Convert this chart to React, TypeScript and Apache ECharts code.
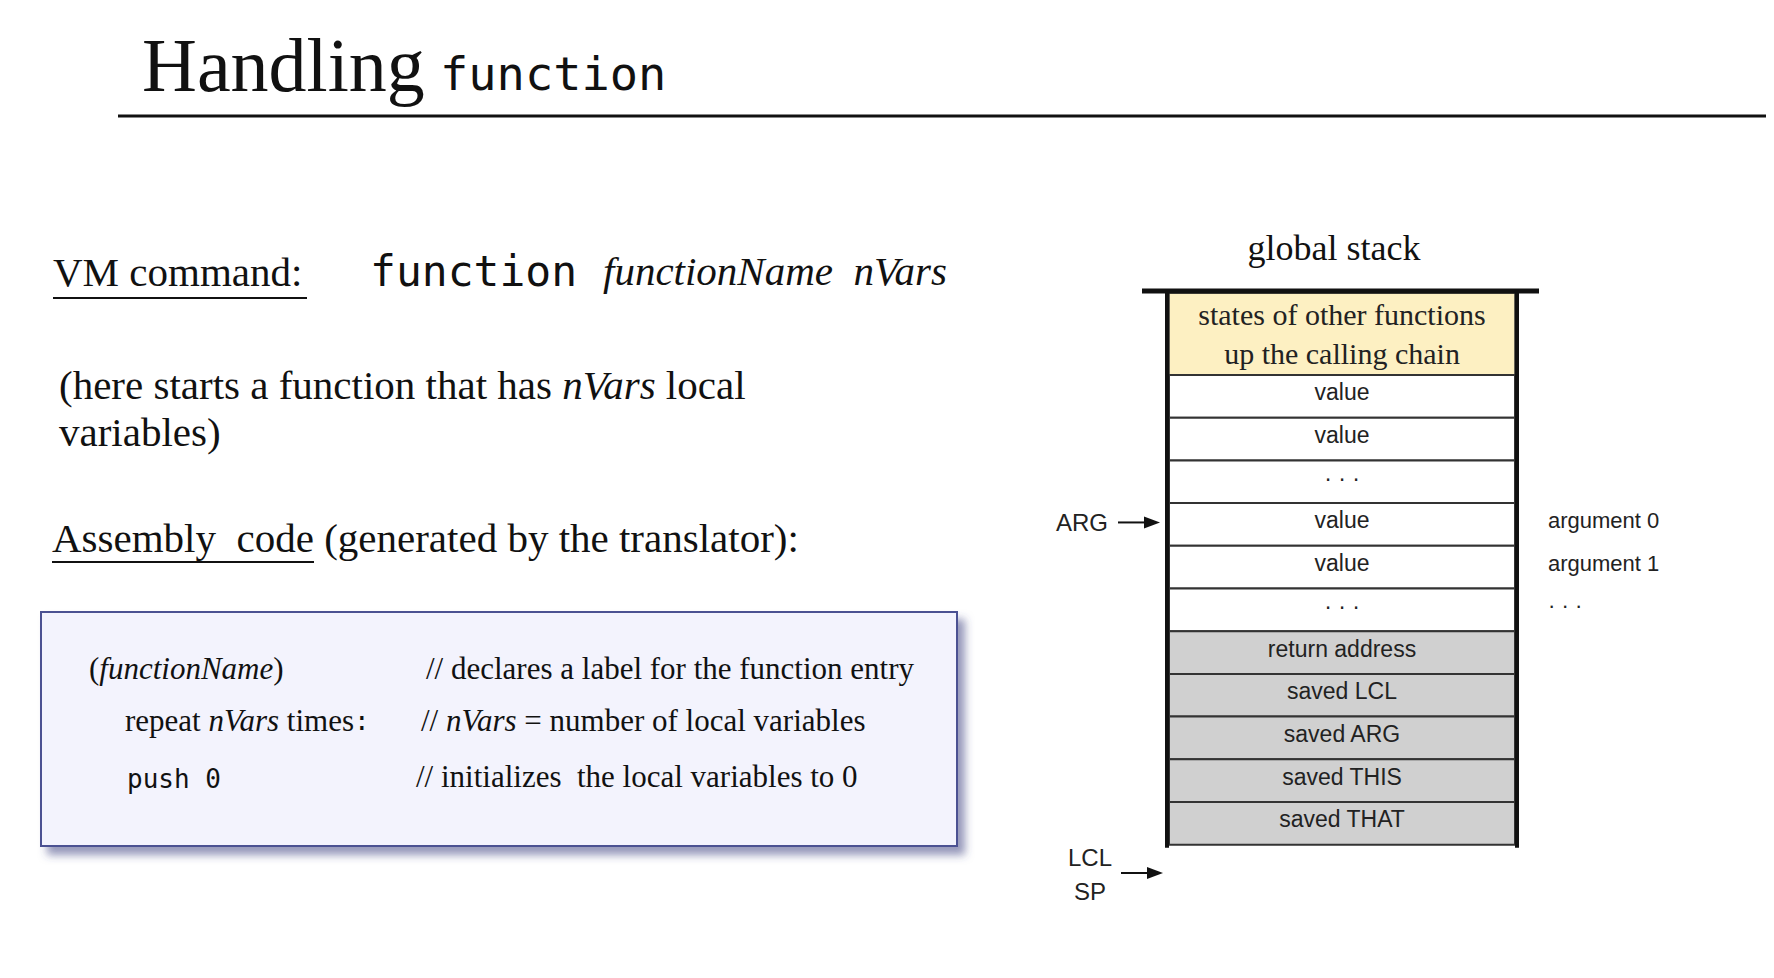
import { useEffect, useRef } from "react";
import * as echarts from "echarts";

const stackLabels = [
  "value", "value", "\u00b7 \u00b7 \u00b7", "value", "value", "\u00b7 \u00b7 \u00b7",
  "return address", "saved LCL", "saved ARG", "saved THIS", "saved THAT",
];
const stackShaded = [false, false, false, false, false, false, true, true, true, true, true];
const sideNotes = [
  { row: 3, text: "argument 0" },
  { row: 4, text: "argument 1" },
  { row: 5, text: "\u00b7 \u00b7 \u00b7" },
];
const codeLines = [
  { left: "{p|(}{i|functionName}{p|)}", comment: "{p|// declares a label for the function entry}", lx: 89, cx: 426 },
  { left: "{p|repeat }{i|nVars}{p| times}{m|:}", comment: "{p|// }{i|nVars}{p| = number of local variables}", lx: 125, cx: 421 },
  { left: "{m|push 0}", comment: "{p|// initializes  the local variables to 0}", lx: 127, cx: 416 },
];

const SERIF = "'Liberation Serif', 'DejaVu Serif', serif";
const SANS = "'Liberation Sans', Arial, sans-serif";
const MONO = "'DejaVu Sans Mono', monospace";

export default function App() {
  const ref = useRef<HTMLDivElement>(null);

  useEffect(() => {
    document.body.style.margin = "0";
    if (!ref.current) return;
    const chart = echarts.init(ref.current, undefined, { renderer: "svg" });

    const cellTop = 375;
    const cellH = 42.7;
    const cellX = 1169;
    const cellW = 346;
    const elements: any[] = [];

    // title
    elements.push({
      type: "text", x: 142, y: 103,
      style: { text: "Handling", font: `76px ${SERIF}`, fill: "#111", verticalAlign: "bottom" },
    });
    elements.push({
      type: "text", x: 440, y: 97,
      style: { text: "function", font: `47px ${MONO}`, fill: "#111", verticalAlign: "bottom" },
    });
    elements.push({ type: "line", shape: { x1: 118, y1: 116, x2: 1766, y2: 116 }, style: { stroke: "#111", lineWidth: 3 } });

    // VM command line
    elements.push({
      type: "text", x: 53, y: 292,
      style: { text: "VM command:", font: `41px ${SERIF}`, fill: "#111", verticalAlign: "bottom" },
    });
    elements.push({ type: "line", shape: { x1: 53, y1: 298, x2: 307, y2: 298 }, style: { stroke: "#111", lineWidth: 2 } });
    elements.push({
      type: "text", x: 370, y: 292,
      style: {
        text: "{m|function }{i|functionName  nVars}", verticalAlign: "bottom",
        rich: {
          m: { font: `43px ${MONO}`, fill: "#111" },
          i: { font: `italic 41px ${SERIF}`, fill: "#111" },
        },
      },
    });

    // description
    elements.push({
      type: "text", x: 59, y: 405,
      style: {
        text: "{p|(here starts a function that has }{i|nVars}{p| local}", verticalAlign: "bottom",
        rich: { p: { font: `41px ${SERIF}`, fill: "#111" }, i: { font: `italic 41px ${SERIF}`, fill: "#111" } },
      },
    });
    elements.push({
      type: "text", x: 59, y: 452,
      style: { text: "variables)", font: `41px ${SERIF}`, fill: "#111", verticalAlign: "bottom" },
    });

    // assembly code heading
    elements.push({
      type: "text", x: 52, y: 558,
      style: { text: "Assembly  code (generated by the translator):", font: `41px ${SERIF}`, fill: "#111", verticalAlign: "bottom" },
    });
    elements.push({ type: "line", shape: { x1: 52, y1: 562, x2: 314, y2: 562 }, style: { stroke: "#111", lineWidth: 2 } });

    // code box
    elements.push({
      type: "rect", shape: { x: 41, y: 612, width: 916, height: 234 },
      style: {
        fill: "#f3f3fd", stroke: "#4b5192", lineWidth: 2,
        shadowColor: "rgba(60,66,130,0.55)", shadowBlur: 8, shadowOffsetX: 7, shadowOffsetY: 8,
      },
    });
    const codeRich = {
      p: { font: `31px ${SERIF}`, fill: "#111" },
      i: { font: `italic 31px ${SERIF}`, fill: "#111" },
      m: { font: `26px ${MONO}`, fill: "#111" },
    };
    const codeBase = [684, 736, 792];
    codeLines.forEach((l, k) => {
      elements.push({ type: "text", x: l.lx, y: codeBase[k], style: { text: l.left, verticalAlign: "bottom", rich: codeRich } });
      elements.push({ type: "text", x: l.cx, y: codeBase[k], style: { text: l.comment, verticalAlign: "bottom", rich: codeRich } });
    });

    // global stack
    elements.push({
      type: "text", x: 1334, y: 266,
      style: { text: "global stack", font: `36px ${SERIF}`, fill: "#111", align: "center", verticalAlign: "bottom" },
    });
    elements.push({
      type: "rect", shape: { x: cellX, y: 293, width: cellW, height: cellTop - 293 },
      style: { fill: "#fdf0c2", stroke: "#333", lineWidth: 1.5 },
    });
    elements.push({
      type: "text", x: cellX + cellW / 2, y: 334,
      style: {
        text: "states of other functions\nup the calling chain", font: `30px ${SERIF}`, fill: "#222",
        align: "center", verticalAlign: "middle", lineHeight: 39,
      },
    });
    stackLabels.forEach((lab, k) => {
      const y = cellTop + k * cellH;
      elements.push({
        type: "rect", shape: { x: cellX, y, width: cellW, height: cellH },
        style: { fill: stackShaded[k] ? "#d0d0d0" : "#fff", stroke: "#333", lineWidth: 2 },
      });
      elements.push({
        type: "text", x: cellX + cellW / 2, y: y + cellH / 2 - 4,
        style: { text: lab, font: `23px ${SANS}`, fill: "#222", align: "center", verticalAlign: "middle" },
      });
    });
    const bottom = cellTop + stackLabels.length * cellH;
    elements.push({ type: "line", shape: { x1: 1142, y1: 291, x2: 1539, y2: 291 }, style: { stroke: "#111", lineWidth: 5 } });
    elements.push({ type: "line", shape: { x1: 1167, y1: 291, x2: 1167, y2: bottom + 3 }, style: { stroke: "#111", lineWidth: 4 } });
    elements.push({ type: "line", shape: { x1: 1517, y1: 291, x2: 1517, y2: bottom + 3 }, style: { stroke: "#111", lineWidth: 4 } });

    sideNotes.forEach((n) => {
      elements.push({
        type: "text", x: 1548, y: cellTop + n.row * cellH + cellH / 2 - 4,
        style: { text: n.text, font: `22px ${SANS}`, fill: "#222", verticalAlign: "middle" },
      });
    });

    // pointers
    const arrow = (x1: number, x2: number, y: number) => {
      elements.push({ type: "line", shape: { x1, y1: y, x2: x2 - 12, y2: y }, style: { stroke: "#111", lineWidth: 2 } });
      elements.push({ type: "polygon", shape: { points: [[x2, y], [x2 - 16, y - 6], [x2 - 16, y + 6]] }, style: { fill: "#111" } });
    };
    const argY = cellTop + 3 * cellH + cellH / 2 - 2;
    elements.push({ type: "text", x: 1082, y: argY, style: { text: "ARG", font: `24px ${SANS}`, fill: "#222", align: "center", verticalAlign: "middle" } });
    arrow(1118, 1160, argY);
    elements.push({ type: "text", x: 1090, y: 857, style: { text: "LCL", font: `24px ${SANS}`, fill: "#222", align: "center", verticalAlign: "middle" } });
    elements.push({ type: "text", x: 1090, y: 891, style: { text: "SP", font: `24px ${SANS}`, fill: "#222", align: "center", verticalAlign: "middle" } });
    arrow(1121, 1163, 873);

    chart.setOption({ animation: false, backgroundColor: "#fff", graphic: { elements } });
    return () => chart.dispose();
  }, []);

  return <div ref={ref} style={{ width: 1774, height: 978 }} />;
}
